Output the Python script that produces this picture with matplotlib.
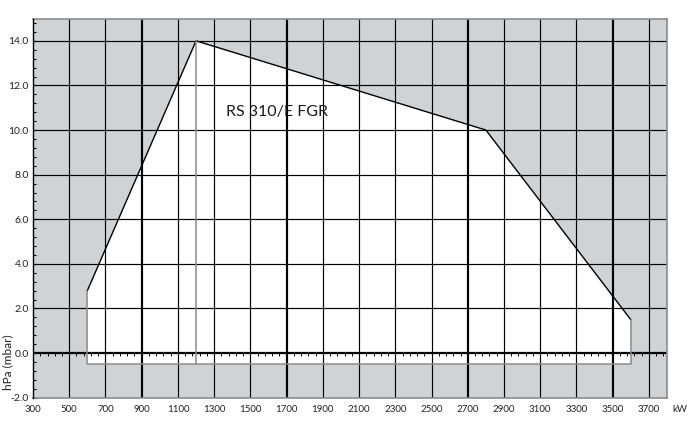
import numpy as np
import matplotlib.pyplot as plt
from matplotlib.ticker import MultipleLocator

# working field of the burner (kW vs hPa)
field_kw = [600, 600, 1200, 2800, 3600, 3600]
field_hpa = [-0.5, 2.8, 14.0, 10.0, 1.5, -0.5]
model_kw = 1200          # vertical divider inside the field
heavy_kw = [900, 1700, 2700, 3500]
x_ticks = list(range(300, 3800, 200))
y_ticks = [-2.0, 0.0, 2.0, 4.0, 6.0, 8.0, 10.0, 12.0, 14.0]
label = 'RS 310/E FGR'

grey_bg = '#d1d2d4'
edge_grey = '#8c8c8c'

plt.rcParams['font.family'] = ['Lato', 'DejaVu Sans']

fig = plt.figure(figsize=(6.92, 4.21), dpi=100)
ax = fig.add_axes([0.0477, 0.0553, 0.9162, 0.9007])
ax.set_xlim(300, 3800)
ax.set_ylim(-2, 15)
ax.set_facecolor(grey_bg)

# white inside of the field
ax.fill(field_kw, field_hpa, color='white', zorder=1, lw=0)

# grid
for x in x_ticks[1:]:
    lw = 1.5 if x in heavy_kw else 0.85
    ax.axvline(x, color='black', lw=lw, zorder=2)
for x in heavy_kw:
    ax.axvline(x, color='black', lw=1.5, zorder=2)
for y in y_ticks[1:]:
    ax.axhline(y, color='black', lw=1.6 if y == 0 else 0.85, zorder=2)

# little ticks hanging under the zero line
small_x = np.arange(300, 3800, 40)
ax.vlines(small_x, -0.12, 0, color='black', lw=0.7, zorder=2)

# field outline: upper part black, lower part grey
ax.plot(field_kw[1:5], field_hpa[1:5], color='black', lw=1.0, zorder=3)
ax.plot([field_kw[4], field_kw[5], field_kw[0], field_kw[1]],
        [field_hpa[4], field_hpa[5], field_hpa[0], field_hpa[1]],
        color=edge_grey, lw=1.1, zorder=3)
ax.plot([model_kw, model_kw], [field_hpa[0], field_hpa[2]],
        color=edge_grey, lw=1.1, zorder=3)

ax.text(1645, 10.8, label, fontsize=11.5, ha='center', va='center',
        color='#1a1a1a', zorder=4)

# axes styling
for side in ['top', 'right', 'bottom']:
    ax.spines[side].set_color(edge_grey)
    ax.spines[side].set_linewidth(1.2)
ax.spines['left'].set_color('black')
ax.spines['left'].set_linewidth(1.0)
ax.spines['left'].set_zorder(5)

ax.set_xticks(x_ticks)
ax.set_xticklabels([str(x) for x in x_ticks])
ax.set_yticks(y_ticks)
ax.set_yticklabels(['%.1f' % y for y in y_ticks])
ax.yaxis.set_minor_locator(MultipleLocator(0.4))
ax.tick_params(axis='x', length=0, labelsize=7, pad=5, colors='#222222')
ax.tick_params(axis='y', which='major', direction='in', length=3,
               labelsize=7.5, pad=3, colors='#222222')
ax.tick_params(axis='y', which='minor', direction='in', length=2, width=0.8)

fig.text(672 / 692, 1 - 409 / 421, 'kW', fontsize=7, ha='left',
         va='center', color='#222222')
fig.text(8 / 692, 1 - 362 / 421, 'hPa (mbar)', fontsize=8.5, rotation=90,
         ha='center', va='center', color='#222222')

fig.savefig('out.png', dpi=100)
